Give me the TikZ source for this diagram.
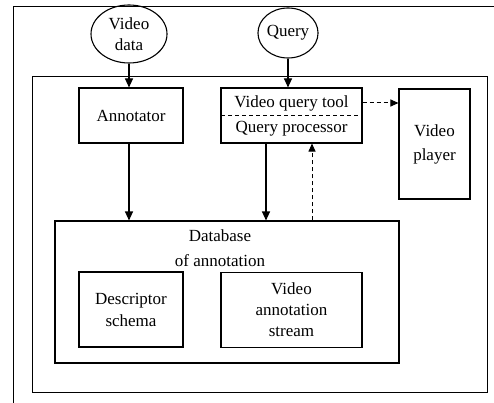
\documentclass[tikz,border=0pt]{standalone}
\usepackage{fontspec}
\setmainfont{Liberation Serif}
\usetikzlibrary{arrows.meta,shapes.geometric,calc}
\begin{document}
\begin{tikzpicture}[x=1pt,y=-1pt,
  every node/.style={font=\fontsize{17}{22}\selectfont},
  box/.style={draw,line width=1.1pt,rectangle,minimum width=#1,inner sep=0pt},
  oval/.style={draw,line width=1.1pt,ellipse,inner sep=0pt,align=center},
  txt/.style={inner sep=0pt,align=center},
  arr/.style={line width=1.1pt,-{Triangle[length=9pt,width=8pt]}},
  darr/.style={line width=1pt,dash pattern=on 4pt off 3pt,-{Triangle[length=8pt,width=7pt]}},
  frame/.style={line width=1pt}]
\useasboundingbox (0,0) rectangle (494,403);
% outer frame (cropped)
\draw[frame] (13,403) -- (13,7) -- (494,7);
% inner frame
\draw[frame] (32,77) rectangle (487,392);
% ovals
\node[oval,minimum width=76pt,minimum height=58pt] (vdata) at (129,34) {Video\\[-1pt]data};
\node[oval,minimum width=60pt,minimum height=50pt] (query) at (288,33) {Query};
% boxes
\node[box=104pt,minimum height=55pt] (annot) at (131,115.5) {Annotator};
\node[box=141pt,minimum height=55pt] (vqt) at (291.5,115.5) {};
\node[txt] (vqtt) at (291.5,103) {Video query tool};
\node[txt] (qp) at (291.5,129) {Query processor};
\coordinate (sepl) at (221,116);
\coordinate (sepr) at (362,116);
\draw[line width=1pt,dash pattern=on 4pt off 3pt] (sepl) -- (sepr);
\node[box=71pt,minimum height=110pt,align=center,font=\fontsize{17}{24}\selectfont] (player) at (434.5,144) {Video\\player};
\node[box=344pt,minimum height=142pt] (db) at (227,292) {};
\node[txt] (dbt1) at (220,236) {Database};
\node[txt] (dbt2) at (220,261) {of annotation};
\node[box=104pt,minimum height=75pt,align=center] (desc) at (131,309.5) {Descriptor\\schema};
\node[box=141pt,minimum height=75pt,align=center,font=\fontsize{17}{21}\selectfont] (vas) at (291.5,310) {Video\\annotation\\stream};
% connectors
\draw[arr] (vdata.south) -- (vdata.south |- annot.north);
\draw[arr] (query.south) -- (query.south |- vqt.north);
\draw[darr] (vqtt.east -| vqt.east) -- (vqtt.east -| player.west);
\draw[arr] (annot.south -| vdata.south) -- (vdata.south |- db.north);
\coordinate (qa) at ([xshift=-25.5pt]vqt.south);
\draw[arr] (qa) -- (qa |- db.north);
\coordinate (qb) at ([xshift=20.5pt]vqt.south);
\draw[darr] (qb |- db.north) -- (qb);
\end{tikzpicture}
\end{document}
